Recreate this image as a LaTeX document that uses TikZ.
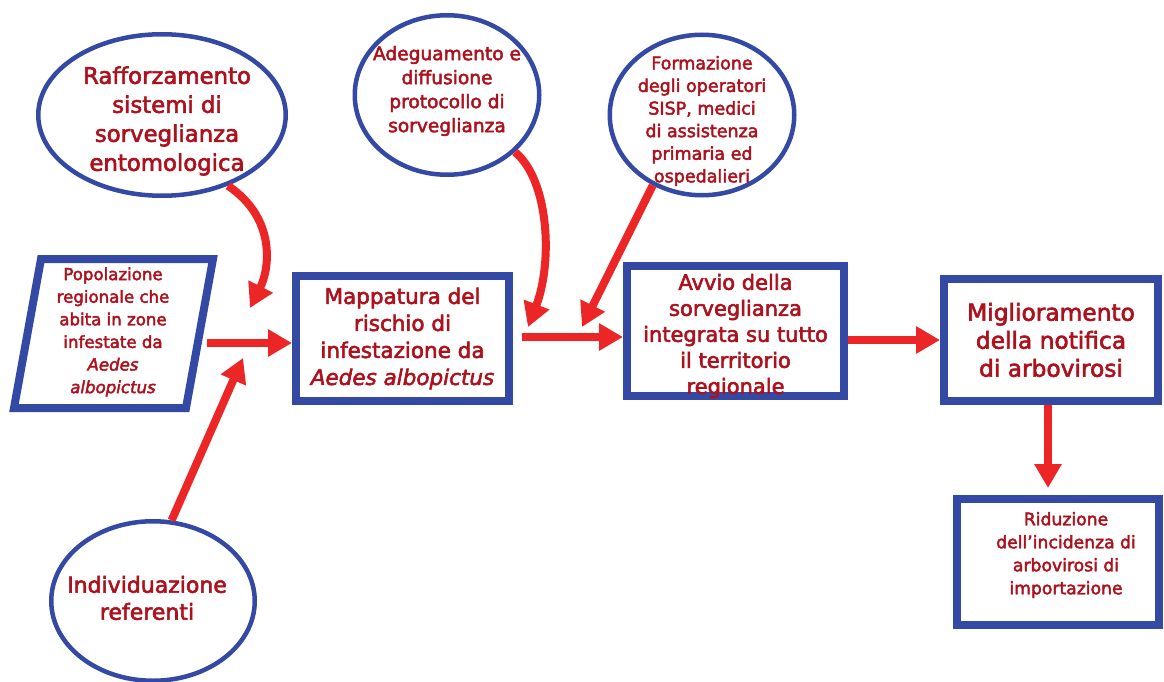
\documentclass[tikz,border=0pt]{standalone}
\usepackage{fontspec}
\setmainfont{DejaVu Sans}[FakeBold=2.6]
\usetikzlibrary{shapes.geometric,arrows.meta,calc}
\definecolor{bblue}{RGB}{52,73,164}
\definecolor{rarrow}{RGB}{236,38,38}
\definecolor{tred}{RGB}{172,18,30}
\newcommand{\fsz}[2]{\fontsize{#1pt}{#2pt}\selectfont}
\tikzset{
  oval/.style={ellipse, draw=bblue, line width=4.5pt, fill=white, inner sep=0pt},
  txt/.style={text=tred, align=center, inner sep=0pt},
  boxn/.style={rectangle, draw=bblue, line width=8pt, fill=white, inner sep=0pt, align=center, text=tred},
  flow/.style={draw=rarrow, line width=8pt, -{Triangle[width=26pt,length=24pt]}},
}
\begin{document}
\begin{tikzpicture}[x=1pt,y=-1pt]
\useasboundingbox[fill=white] (0,0) rectangle (1164,682);

% ellipses
\node[oval, minimum width=247.5pt, minimum height=161.5pt,
  label={[txt, font=\fsz{22.8}{29}, xshift=5pt, yshift=-6pt]center:Rafforzamento\\sistemi di\\sorveglianza\\entomologica}] (E1) at (162,115) {};
\node[oval, minimum width=184.5pt, minimum height=159.5pt,
  label={[txt, font=\fsz{18.6}{24}, yshift=4pt]center:Adeguamento e\\diffusione\\protocollo di\\sorveglianza}] (E2) at (447,95) {};
\node[oval, minimum width=184.5pt, minimum height=160.5pt,
  label={[txt, font=\fsz{17.5}{22.6}, yshift=-6pt]center:Formazione\\degli operatori\\SISP, medici\\di assistenza\\primaria ed\\ospedalieri}] (E3) at (702,115) {};
\node[oval, minimum width=203.5pt, minimum height=159.5pt,
  label={[txt, font=\fsz{22}{27}, xshift=-6pt, yshift=3pt]center:Individuazione\\referenti}] (E4) at (153,601) {};

% parallelogram
\draw[bblue, line width=8pt, line join=miter] (41,259) -- (213,259) -- (186,408) -- (14,408) -- cycle;
\node[txt, font=\fsz{16.6}{22.6}] (P) at (113,332) {Popolazione\\regionale che\\abita in zone\\infestate da\\\textit{Aedes}\\\textit{albopictus}};

% boxes
\node[boxn, minimum width=213pt, minimum height=125pt, font=\fsz{21.5}{27}] (B1) at (402.5,338.5)
  {Mappatura del\\rischio di\\infestazione da\\\textit{Aedes albopictus}};
\node[boxn, minimum width=217pt, minimum height=130pt,
  label={[txt, font=\fsz{21}{26}, yshift=-5pt]center:Avvio della\\sorveglianza\\integrata su tutto\\il territorio\\regionale}] (B2) at (735.5,331) {};
\node[boxn, minimum width=214pt, minimum height=122pt, font=\fsz{23.3}{28}] (B3) at (1051,340)
  {Miglioramento\\della notifica\\di arbovirosi};
\node[boxn, minimum width=202pt, minimum height=126pt,
  label={[txt, font=\fsz{17.2}{23}, xshift=8pt, yshift=7pt]center:Riduzione\\dell'incidenza di\\arbovirosi di\\importazione}] (B4) at (1058,562) {};

% free ends
\coordinate (pout) at (207,343);
\coordinate (m1) at (522,337);
\coordinate (t1) at (250,308);
\coordinate (t2) at (243,358);
\coordinate (t3) at (528,327);
\coordinate (t4) at (582,327);

% connectors
\draw[flow] (pout) -- (pout -| B1.west);
\draw[flow] (E1.-47) .. controls (276,218) and (270,268) .. (t1);
\draw[flow] (E4.77) -- (t2);
\draw[flow] (m1) -- (m1 -| B2.west);
\draw[flow] (E2.-40) .. controls (549,180) and (553,262) .. (t3);
\draw[flow] (E3.-125) -- (t4);
\draw[flow] ([yshift=-9pt]B2.east) -- (B3.west);
\draw[flow] ($(B3.south)+(-3,0)$) -- ($(B4.north)+(-10,-7)$);
\end{tikzpicture}
\end{document}
